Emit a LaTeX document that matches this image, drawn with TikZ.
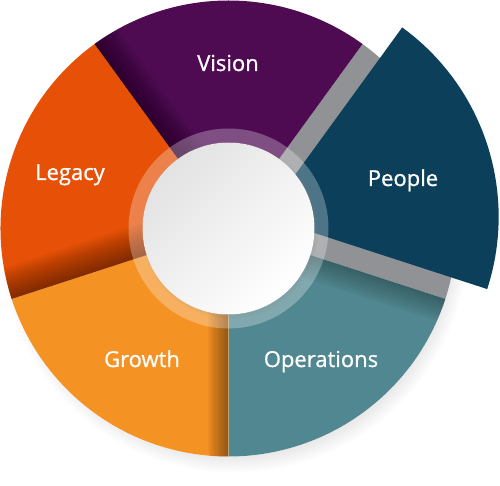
\documentclass[tikz,border=0pt]{standalone}
\usepackage{fontspec}
\setmainfont{Open Sans}
\newfontfamily\segfont{Open Sans}[FakeBold=0.9]
\usetikzlibrary{shadows}

\definecolor{vision}{HTML}{4E0B52}
\definecolor{legacy}{HTML}{E65107}
\definecolor{growth}{HTML}{F59224}
\definecolor{operations}{HTML}{508790}
\definecolor{people}{HTML}{0B3F5A}
\definecolor{gap}{HTML}{909295}

\begin{document}
\begin{tikzpicture}[x=1pt,y=1pt,
                    segtext/.style={text=white,anchor=base,font=\segfont\fontsize{22}{26}\selectfont},
                    edgedark/.style={fill=black,opacity=.032}]
                    \useasboundingbox(-228.5, -257.5)rectangle(271.5, 228.5);
                    \coordinate(O)at(0, 0);
                    \coordinate(P)at(18:38);

                    \fill[white,circular drop shadow={shadow xshift=5pt,shadow yshift=-9pt,shadow scale=1.03,opacity=.35}](O)circle(228);

                    \fill[gap](O)--(-18:228)arc[start angle=-18,end angle=54,radius=228]--cycle;
                    \fill[vision](O)--(54:228)arc[start angle=54,end angle=126,radius=228]--cycle;
                    \fill[legacy](O)--(126:228)arc[start angle=126,end angle=198,radius=228]--cycle;
                    \fill[growth](O)--(198:228)arc[start angle=198,end angle=270,radius=228]--cycle;
                    \fill[operations](O)--(270:228)arc[start angle=270,end angle=342,radius=228]--cycle;

                    \begin{scope}
                        \clip(O)--(54:228)arc[start angle=54,end angle=126,radius=228]--cycle;
                        \foreach \w in {2,4,...,28}
                            \path[edgedark,rotate=126](0, 0)rectangle(230, -\w);
                    \end{scope}
                    \begin{scope}
                        \clip(O)--(126:228)arc[start angle=126,end angle=198,radius=228]--cycle;
                        \foreach \w in {2,4,...,32}
                            \path[edgedark,rotate=198](0, 0)rectangle(230, -\w);
                    \end{scope}
                    \begin{scope}
                        \clip(O)--(198:228)arc[start angle=198,end angle=270,radius=228]--cycle;
                        \foreach \w in {1.5,3,...,21}
                            \path[edgedark,rotate=270](0, 0)rectangle(230, -\w);
                    \end{scope}
                    \begin{scope}
                        \clip(O)--(270:228)arc[start angle=270,end angle=342,radius=228]--cycle;
                        \foreach \w in {2,4,...,24}
                            \path[edgedark,opacity=.022,rotate=342](0, 0)rectangle(230, -\w);
                    \end{scope}
                    \begin{scope}
                        \clip(O)--(-18:228)arc[start angle=-18,end angle=54,radius=228]--cycle;
                        \foreach \w in {2,4,...,20}
                            \path[edgedark,rotate=54,shift={(P)}](0, -16)rectangle(230, -16-\w);
                    \end{scope}

                    \fill[people](P)--++(-18:234)arc[start angle=-18,end angle=54,radius=234]--cycle;

                    \fill[white,opacity=.28,even odd rule](O)circle(100)circle(86);
                    \shade[shading=axis,top color=black!11,bottom color=white,shading angle=45,
                           circular drop shadow={shadow xshift=1.5pt,shadow yshift=-2pt,shadow scale=1.03,opacity=.45}](O)circle(86);

                    \node[segtext](vision)at(-0.5, 157.5){Vision};
                    \node[segtext](legacy)at(-158.5, 48.5){Legacy};
                    \node[segtext](people)at(174.5, 42.5){People};
                    \node[segtext](growth)at(-86.5, -138.5){Growth};
                    \node[segtext](operations)at(92.5, -138.5){Operations};
                \end{tikzpicture}
\end{document}
